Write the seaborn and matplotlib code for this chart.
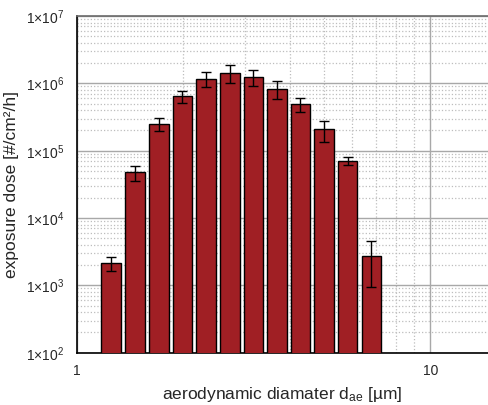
import numpy as np
import matplotlib
matplotlib.use("Agg")
import matplotlib.pyplot as plt
import matplotlib.ticker as mticker
import seaborn as sns

# Data
diameter = [1.25, 1.46, 1.71, 1.99, 2.32, 2.71, 3.16, 3.68, 4.29, 5.00, 5.83, 6.81]
dose = [2130, 47800, 249000, 643000, 1160000, 1440000, 1260000, 833000, 493000, 208000, 70300, 2740]
dose_hi = [2660, 59800, 303000, 778000, 1460000, 1850000, 1600000, 1080000, 612000, 279000, 79800, 4560]
dose_lo = [1610, 35500, 194000, 511000, 873000, 1000000, 904000, 586000, 371000, 133000, 61400, 938]

y_ticks = [1e2, 1e3, 1e4, 1e5, 1e6, 1e7]
x_ticks = [1, 10]

sns.set_style("white")
plt.rcParams['font.family'] = ['Liberation Sans', 'DejaVu Sans']
plt.rcParams['mathtext.fontset'] = 'custom'
plt.rcParams['mathtext.rm'] = 'Liberation Sans'
plt.rcParams['mathtext.it'] = 'Liberation Sans'

fig = plt.figure(figsize=(4.89, 4.05), dpi=100)
ax = fig.add_axes([0.157, 0.129, 0.842, 0.8315])

d = np.array(diameter)
half = 1.065  # bar half-width factor in log space
left = d / half
width = d * half - left
ax.bar(left, dose, width=width, align='edge', color='#a01f24',
       edgecolor='black', linewidth=1.0, zorder=3)

yerr = [np.array(dose) - np.array(dose_lo), np.array(dose_hi) - np.array(dose)]
ax.errorbar(d, dose, yerr=yerr, fmt='none', ecolor='black', elinewidth=1.0,
            capsize=3.5, capthick=1.0, zorder=4)

ax.set_xscale('log')
ax.set_yscale('log')
ax.set_xlim(1, 14.6)
ax.set_ylim(1e2, 1e7)

ax.set_yticks(y_ticks)
ax.set_yticklabels([r'$1{\times}10^{%d}$' % int(np.log10(v)) for v in y_ticks])
ax.set_xticks(x_ticks)
ax.set_xticklabels([str(v) for v in x_ticks])
ax.xaxis.set_minor_locator(mticker.LogLocator(base=10, subs=np.arange(2, 10), numticks=20))
ax.yaxis.set_minor_locator(mticker.LogLocator(base=10, subs=np.arange(2, 10), numticks=20))
ax.xaxis.set_minor_formatter(mticker.NullFormatter())
ax.yaxis.set_minor_formatter(mticker.NullFormatter())

ax.grid(True, which='major', color='#a8a8a8', linestyle='-', linewidth=1.0, zorder=0)
ax.grid(True, which='minor', color='#bdbdbd', linestyle=':', linewidth=0.9, zorder=0)
ax.set_axisbelow(True)

ax.tick_params(axis='both', which='major', direction='out', length=5, width=1,
               labelsize=10, color='black', pad=4)
ax.tick_params(axis='both', which='minor', direction='out', length=2.5, width=0.8,
               color='black')
ax.tick_params(axis='x', which='major', pad=3)

for s in ['left', 'bottom']:
    ax.spines[s].set_color('black')
    ax.spines[s].set_linewidth(1.2)
ax.spines['top'].set_color('#6a6a6a')
ax.spines['top'].set_linewidth(1.2)
ax.spines['right'].set_visible(False)

ax.set_ylabel('exposure dose [#/cm²/h]', fontsize=12.5, labelpad=5)
ax.set_xlabel(r'aerodynamic diamater d$_{\mathrm{ae}}$ [µm]', fontsize=12.5, labelpad=5)

fig.savefig("out.png", dpi=100)
